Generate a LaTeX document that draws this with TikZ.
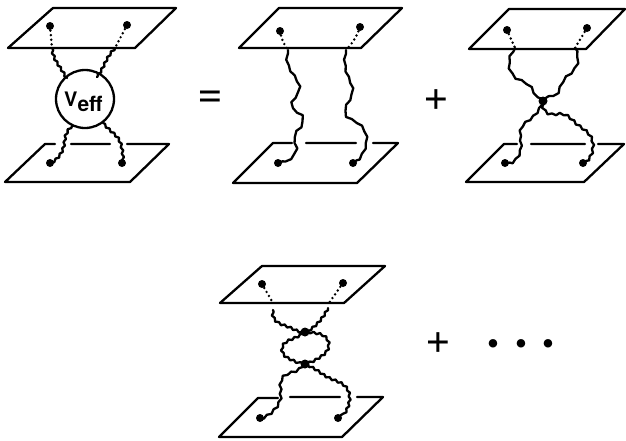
\documentclass[tikz,border=0pt]{standalone}
\usepackage{fontspec}
\setmainfont{TeX Gyre Heros}
\usetikzlibrary{decorations.pathmorphing,hobby}
\tikzset{
  plate/.style={line width=2.3pt,line join=round,line cap=round},
  wig/.style={use Hobby shortcut,line width=2.3pt,line join=round,line cap=round,decorate,decoration={snake,segment length=6.5pt,amplitude=1pt}},
  dots/.style={line width=2.7pt,line cap=round,dash pattern=on 0pt off 4.6pt},
  endpt/.style={circle,fill=black,inner sep=0pt,minimum size=8pt},
  vertex/.style={circle,fill=black,inner sep=0pt,minimum size=9pt},
  symb/.style={inner sep=0pt,font=\fontsize{44}{44}\selectfont},
}
\begin{document}
\begin{tikzpicture}[x=1pt,y=-1pt]
\useasboundingbox (0,0) rectangle (626,440);
% ---- panel 1
\draw[plate] (53,8)--(176,8)--(135,48)--(8,48)--cycle;
\draw[plate] (55,144)--(45,144)--(5,182)--(130,182)--(169,144)--(127,144) (110,144)--(71,144);
\node[endpt] (a1) at (50,26) {};
\node[endpt] (a2) at (127,25) {};
\node[endpt] (a3) at (50,163) {};
\node[endpt] (a4) at (122,163) {};
\coordinate (a1e) at (52,48);
\coordinate (a2e) at (115,48);
\node[circle,draw,line width=2.3pt,minimum size=58pt,inner sep=0pt] (veff) at (85,99) {};
\node[inner sep=0pt,anchor=base west] (veffl) at (64,106) {\fontsize{20}{20}\selectfont\bfseries V\raisebox{-5pt}{\fontsize{21}{21}\selectfont eff}};
\draw[dots] (a1.center)--(a1e);
\draw[dots] (a2.center)--(a2e);
\draw[wig] (a1e) .. (55,58) .. (60,66) .. (67,78);
\draw[wig] (a2e) .. (108,58) .. (103,68) .. (97,77);
\draw[wig] (72,126) .. (67,134) .. (65,145) .. (61,154) .. (a3.center);
\draw[wig] (103,123) .. (110,130) .. (117,137) .. (121,148) .. (a4.center);
\node[symb] (eq) at (210,99) {=};
% ---- panel 2
\draw[plate] (279,8)--(402,8)--(361,48)--(239,48)--cycle;
\draw[plate] (292,143)--(273,143)--(233,183)--(357,183)--(398,143)--(373,143) (356,143)--(306,143);
\node[endpt] (b1) at (280,31) {};
\node[endpt] (b2) at (360,27) {};
\node[endpt] (b3) at (278,163) {};
\node[endpt] (b4) at (353,163) {};
\coordinate (b1e) at (288,50);
\coordinate (b2e) at (346,50);
\draw[dots] (b1.center) to[bend right=12] (b1e);
\draw[dots] (b2.center) to[bend left=12] (b2e);
\draw[wig,decoration={segment length=12pt,amplitude=.7pt}] (b1e) .. (289,63) .. (298,78) .. (300,87) .. (294,97) .. (293,105) .. (302,112) .. (302,123) .. (295,133) .. (297,147) .. (292,155) .. (b3.center);
\draw[wig,decoration={segment length=12pt,amplitude=.7pt}] (b2e) .. (348,72) .. (353,90) .. (347,113) .. (355,118) .. (367,133) .. (365,147) .. (b4.center);
\node[symb] (p1) at (436,100) {+};
% ---- panel 3
\draw[plate] (509,9)--(625,9)--(586,49)--(469,49)--cycle;
\draw[plate] (517,144)--(504,144)--(466,182)--(584,182)--(624,144)--(598,144) (585,144)--(531,144);
\node[endpt] (c1) at (507,30) {};
\node[endpt] (c2) at (587,28) {};
\node[endpt] (c3) at (505,163) {};
\node[endpt] (c4) at (583,163) {};
\node[vertex] (c0) at (543,101) {};
\coordinate (c1e) at (515,48);
\coordinate (c2e) at (575,48);
\draw[dots] (c1.center)--(c1e);
\draw[dots] (c2.center)--(c2e);
\draw[wig,decoration={segment length=12pt,amplitude=.8pt}] (c1e) .. (511,58) .. (517,75) .. (530,82) .. (537,92) .. (c0.center);
\draw[wig,decoration={segment length=12pt,amplitude=.8pt}] (c2e) .. (573,67) .. (562,78) .. (555,92) .. (549,96) .. (c0.center);
\draw[wig,decoration={segment length=10pt,amplitude=.8pt}] (c0.center) .. (538,110) .. (531,117) .. (523,124) .. (522,143) .. (517,157) .. (c3.center);
\draw[wig,decoration={segment length=8pt}] (c0.center) .. (550,112) .. (563,112) .. (577,122) .. (590,133) .. (593,148) .. (c4.center);
% ---- panel 4
\draw[plate] (262,266)--(385,266)--(344,303)--(220,303)--cycle;
\draw[plate] (278,398)--(258,398)--(219,437)--(342,437)--(383,397)--(357,397) (340,397)--(290,397);
\node[endpt] (d1) at (262,284) {};
\node[endpt] (d2) at (343,283) {};
\node[endpt] (d3) at (260,418) {};
\node[endpt] (d4) at (338,418) {};
\node[vertex] (dA) at (305,332) {};
\node[vertex] (dB) at (305,364) {};
\coordinate (d1e) at (273,303);
\coordinate (d2e) at (329,303);
\coordinate (d1s) at (273,310);
\coordinate (d2s) at (328,308);
\draw[dots] (d1.center)--(d1e);
\draw[dots] (d2.center)--(d2e);
\draw[wig] (d1s) .. (275,318) .. (288,325) .. (297,329) .. (dA.center);
\draw[wig] (d2s) .. (320,320) .. (dA.center);
\draw[wig] (dA.center) .. (314,333) .. (324,337) .. (327,347) .. (317,358) .. (dB.center);
\draw[wig] (dA.center) .. (296,337) .. (284,345) .. (284,352) .. (293,359) .. (dB.center);
\draw[wig,decoration={segment length=9pt}] (dB.center) .. (296,370) .. (285,375) .. (282,397) .. (277,407) .. (d3.center);
\draw[wig] (dB.center) .. (316,370) .. (327,377) .. (345,387) .. (348,400) .. (d4.center);
\node[symb] (p2) at (438,343) {+};
\node[inner sep=0pt,font=\fontsize{34}{34}\selectfont] (ell) at (521,347.5) {•\hspace{16pt}•\hspace{16pt}•};
\end{tikzpicture}
\end{document}
